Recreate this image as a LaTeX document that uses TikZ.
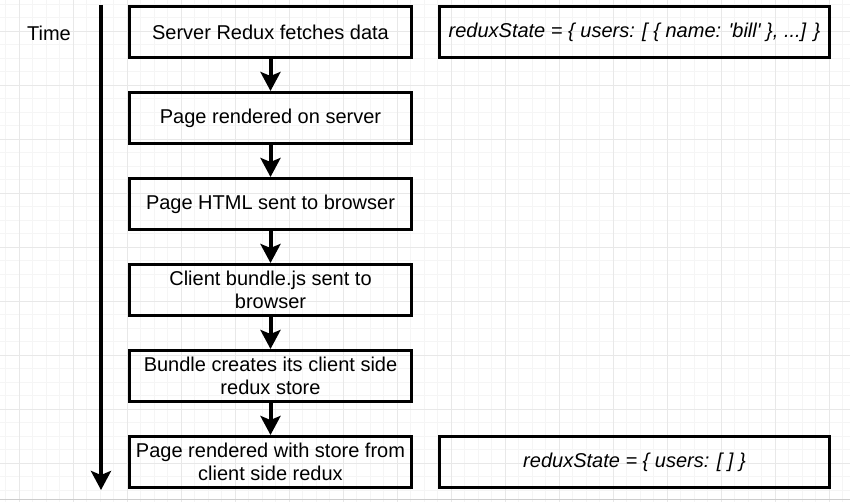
\documentclass[tikz,border=0pt]{standalone}
\usepackage{fontspec}
\setmainfont{Liberation Sans}
\usetikzlibrary{positioning,arrows.meta}

\tikzset{
  gridminor/.style={black!4,line width=0.6pt},
  gridmajor/.style={black!9,line width=0.8pt},
  stage/.style={draw,line width=3pt,minimum width=282pt,minimum height=51pt,
    align=center,inner sep=2pt,font=\fontsize{20pt}{23.5pt}\selectfont},
  state/.style={stage,minimum width=390pt,font=\fontsize{20pt}{23.5pt}\selectfont\itshape},
  flow/.style={line width=4pt,-{Stealth[width=20pt,length=19pt,inset=4pt]}},
}

\begin{document}
\begin{tikzpicture}[x=1pt,y=-1pt]
  \useasboundingbox (0,0) rectangle (850,502);
  \fill[white] (0,0) rectangle (850,502);
  % background grid
  \foreach \gx in {5.5,19,...,850} \draw[gridminor] (\gx,0) -- (\gx,502);
  \foreach \gy in {4,17.5,...,502} \draw[gridminor] (0,\gy) -- (850,\gy);
  \foreach \gx in {19,73,...,850} \draw[gridmajor] (\gx,0) -- (\gx,502);
  \foreach \gy in {31,85,...,502} \draw[gridmajor] (0,\gy) -- (850,\gy);
  \draw[black!20,line width=1pt] (0,499.5) -- (850,499.5);

  \node[font=\fontsize{20pt}{23.5pt}\selectfont] (time) at (49,33) {Time};
  \coordinate (tstart) at (101,5);
  \coordinate (tend) at (101,490);
  \draw[flow] (tstart) -- (tend);

  \node[stage] (fetch) at (270.5,32) {Server Redux fetches data};
  \node[stage,below=32pt of fetch] (render) {Page rendered on server};
  \node[stage,below=32pt of render] (html) {Page HTML sent to browser};
  \node[stage,below=32pt of html] (bundle) {Client bundle.js sent to\\browser};
  \node[stage,below=32pt of bundle] (store) {Bundle creates its client side\\redux store};
  \node[stage,below=32pt of store] (final) {Page rendered with store from\\client side redux};

  \node[state,right=25pt of fetch] (before) {reduxState = \{ users: [ \{ name: \textquotesingle bill\textquotesingle\ \}, ...] \}};
  \node[state,right=25pt of final] (after) {reduxState = \{ users: [ ] \}};

  \foreach \a/\b in {fetch/render,render/html,html/bundle,bundle/store,store/final}
    \draw[flow] (\a) -- (\b);
\end{tikzpicture}
\end{document}
